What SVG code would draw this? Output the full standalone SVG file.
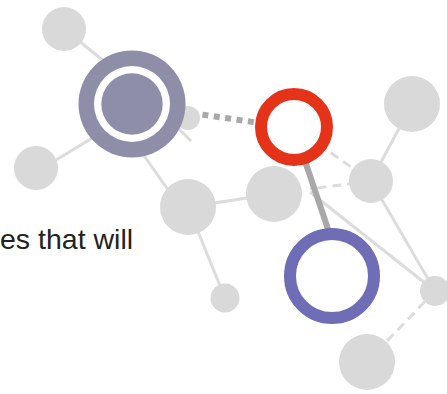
<svg xmlns="http://www.w3.org/2000/svg" width="447" height="394" viewBox="0 0 447 394">
<style>
.ln{stroke:#dcdcdc;stroke-width:3;fill:none}
.dl{stroke:#dcdcdc;stroke-width:3;fill:none;stroke-dasharray:9 6}
.nd{fill:#d9d9d9}
.lbl{font-family:"Liberation Sans",Arial,sans-serif;font-size:28.5px;fill:#222222}
</style>
<rect width="447" height="394" fill="#ffffff"/>
<g id="connectors">
<line class="ln" x1="64" y1="29" x2="130" y2="82"/>
<line class="ln" x1="36" y1="172" x2="132" y2="114"/>
<line class="ln" x1="108" y1="104" x2="180" y2="207"/>
<line class="ln" x1="168" y1="118" x2="191" y2="141"/>
<line class="ln" x1="188" y1="207" x2="273" y2="194"/>
<line class="ln" x1="188" y1="207" x2="225" y2="298"/>
<line class="ln" x1="412" y1="104" x2="371" y2="181"/>
<line class="ln" x1="371" y1="181" x2="435" y2="291"/>
<line class="ln" x1="310" y1="192" x2="435" y2="291"/>
<line class="dl" x1="294" y1="127" x2="371" y2="181"/>
<line class="dl" x1="371" y1="181" x2="310" y2="189"/>
<line class="dl" x1="435" y1="291" x2="367" y2="362"/>
<line x1="191" y1="113" x2="260" y2="123" stroke="#a8a8a8" stroke-width="6" stroke-dasharray="6 5.5"/>
<line x1="304" y1="158" x2="329" y2="232" stroke="#a8a8a8" stroke-width="6"/>
</g>
<g id="nodeA"><circle class="nd" cx="64" cy="29" r="22"/></g>
<g id="nodeD"><circle class="nd" cx="36" cy="168" r="22"/></g>
<g id="nodeC"><circle class="nd" cx="188" cy="118" r="12"/></g>
<g id="nodeE"><circle class="nd" cx="188" cy="207" r="28"/></g>
<g id="nodeF"><circle class="nd" cx="274" cy="194" r="28"/></g>
<g id="nodeH"><circle class="nd" cx="412" cy="104" r="28"/></g>
<g id="nodeI"><circle class="nd" cx="371" cy="181" r="22"/></g>
<g id="nodeK"><circle class="nd" cx="435" cy="291" r="15"/></g>
<g id="nodeL"><circle class="nd" cx="367" cy="362" r="28"/></g>
<g id="nodeM"><circle class="nd" cx="225" cy="298" r="14.5"/></g>
<g id="nodeB">
<circle cx="132" cy="104" r="53.5" fill="#8e8ea9"/>
<circle cx="132" cy="104" r="38" fill="#ffffff"/>
<circle cx="132" cy="104" r="30.7" fill="#8e8ea9"/>
</g>
<g id="nodeG"><circle cx="294" cy="127" r="33" fill="#ffffff" stroke="#e5331a" stroke-width="12"/></g>
<g id="nodeJ"><circle cx="332" cy="276" r="42" fill="#ffffff" stroke="#6e6db5" stroke-width="12"/></g>
<text class="lbl" x="0" y="249">es that will</text>
</svg>
